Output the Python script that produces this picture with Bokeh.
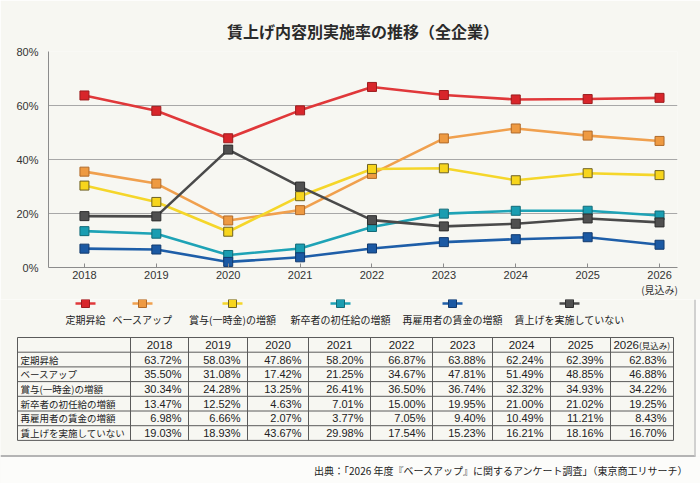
from bokeh.plotting import figure
from bokeh.models import Range1d, FixedTicker, LinearAxis
from bokeh.embed import file_html
from bokeh.resources import INLINE
from bokeh.core.properties import value

# ---------------- data ----------------
YEARS = ["2018", "2019", "2020", "2021", "2022", "2023", "2024", "2025", "2026"]
YEAR_NOTE = "(見込み)"
SERIES_NAMES = ["定期昇給", "ベースアップ", "賞与(一時金)の増額",
                "新卒者の初任給の増額", "再雇用者の賃金の増額", "賃上げを実施していない"]
teiki_shokyu = [63.72, 58.03, 47.86, 58.20, 66.87, 63.88, 62.24, 62.39, 62.83]
base_up = [35.50, 31.08, 17.42, 21.25, 34.67, 47.81, 51.49, 48.85, 46.88]
shoyo_zogaku = [30.34, 24.28, 13.25, 26.41, 36.50, 36.74, 32.32, 34.93, 34.22]
shinsotsu_shoninkyu = [13.47, 12.52, 4.63, 7.01, 15.00, 19.95, 21.00, 21.02, 19.25]
saikoyo_chingin = [6.98, 6.66, 2.07, 3.77, 7.05, 9.40, 10.49, 11.21, 8.43]
chinage_nashi = [19.03, 18.93, 43.67, 29.98, 17.54, 15.23, 16.21, 18.16, 16.70]
Y_TICKS = [0, 20, 40, 60, 80]
TITLE = "賃上げ内容別実施率の推移（全企業）"
SOURCE = "出典：「2026 年度『ベースアップ』に関するアンケート調査」（東京商工リサーチ）"

SERIES = [teiki_shokyu, base_up, shoyo_zogaku, shinsotsu_shoninkyu, saikoyo_chingin, chinage_nashi]

# ---------------- styles ----------------
LINE_COLORS = ["#e0383a", "#f0a04e", "#f5d62a", "#1ea3b6", "#1e5ea8", "#4a4a4a"]
FILL_COLORS = ["#d8262b", "#ee9a42", "#f7d51c", "#1a9db1", "#1b59a3", "#505050"]
EDGE_COLORS = ["#9c1d1f", "#b06a2a", "#6e6122", "#126b78", "#123a6e", "#2e2e2e"]
BG = "#f7f7f2"
JP = "Noto Sans CJK JP"
NUM = "Liberation Sans"
W = 700
H_TOP = 299
H_ALL = 483

# ---------------- chart ----------------
xs = list(range(len(YEARS)))
p = figure(width=W, height=H_TOP, x_range=Range1d(-0.5, 8.25), y_range=Range1d(0, 80),
           output_backend="svg", toolbar_location=None,
           min_border_left=48, min_border_right=23, min_border_top=51, min_border_bottom=30,
           background_fill_color=BG, border_fill_color=BG, outline_line_color=None)
p.title.text = TITLE
p.title.align = "center"
p.title.offset = -14
p.title.standoff = 17
p.title.padding = (0, 0, 4, 0)
p.title.text_font = JP
p.title.text_font_size = "16px"
p.title.text_font_style = "bold"
p.title.text_color = "#2a2a2a"

p.xaxis.ticker = FixedTicker(ticks=xs)
p.xaxis.major_label_overrides = {i: y for i, y in enumerate(YEARS)}
p.xaxis.major_label_text_font = NUM
p.xaxis.major_label_text_font_size = "11px"
p.xaxis.major_label_text_color = "#333333"
p.xaxis.major_label_standoff = 3
p.xaxis.major_tick_in = 4
p.xaxis.major_tick_out = 0
p.xaxis.minor_tick_line_color = None
p.xaxis.axis_line_color = "#8c8c8c"
p.xaxis.major_tick_line_color = "#8c8c8c"

# second line of the last category label
note_axis = LinearAxis(ticker=FixedTicker(ticks=[xs[-1]]),
                       major_label_overrides={xs[-1]: YEAR_NOTE})
note_axis.axis_line_color = None
note_axis.major_tick_line_color = None
note_axis.minor_tick_line_color = None
note_axis.major_tick_out = 0
note_axis.major_tick_in = 0
note_axis.major_label_standoff = 0
note_axis.major_label_text_font = JP
note_axis.major_label_text_font_size = "10px"
note_axis.major_label_text_color = "#333333"
p.add_layout(note_axis, "below")

p.yaxis.ticker = FixedTicker(ticks=Y_TICKS)
p.yaxis.major_label_overrides = {v: f"{v}%" for v in Y_TICKS}
p.yaxis.major_label_text_font = NUM
p.yaxis.major_label_text_font_size = "11px"
p.yaxis.major_label_text_color = "#333333"
p.yaxis.major_label_standoff = 10
p.yaxis.major_tick_in = 0
p.yaxis.major_tick_out = 0
p.yaxis.minor_tick_line_color = None
p.yaxis.axis_line_color = "#8c8c8c"

p.xgrid.visible = False
p.ygrid.ticker = FixedTicker(ticks=Y_TICKS)
p.ygrid.grid_line_color = "#a8a8a8"
p.ygrid.grid_line_width = 1

for vals, lc, fc, ec in zip(SERIES, LINE_COLORS, FILL_COLORS, EDGE_COLORS):
    p.line(xs, vals, line_color=lc, line_width=2.6)
    p.scatter(xs, vals, marker="square", size=9, fill_color=fc, line_color=ec, line_width=1)

# ---------------- legend + table ----------------
q = figure(width=W, height=H_ALL - H_TOP, x_range=Range1d(0, W), y_range=Range1d(H_ALL, H_TOP),
           output_backend="svg", toolbar_location=None,
           x_axis_location=None, y_axis_location=None,
           min_border_left=0, min_border_right=0, min_border_top=0, min_border_bottom=0,
           background_fill_color=BG, border_fill_color=BG, outline_line_color=None)
q.grid.visible = False

LEGEND_X = [85, 142, 232, 340, 452, 569]
LEGEND_MARK_Y = 303
LEGEND_TEXT_Y = 319
for lx, lc, fc, ec in zip(LEGEND_X, LINE_COLORS, FILL_COLORS, EDGE_COLORS):
    q.segment(x0=[lx - 10], x1=[lx + 10], y0=[LEGEND_MARK_Y], y1=[LEGEND_MARK_Y],
              line_color=lc, line_width=2.6)
    q.scatter([lx], [LEGEND_MARK_Y], marker="square", size=8, fill_color=fc,
              line_color=ec, line_width=1)
q.text(LEGEND_X, [LEGEND_TEXT_Y] * len(LEGEND_X), text=SERIES_NAMES,
       text_align="center", text_baseline="middle", text_font=value(JP),
       text_font_size="10px", text_color="#222222")

COL_EDGES = [17, 130, 188, 247, 308, 370, 432, 492, 550, 610, 673]
ROW_TOP = 337
ROW_H = 14.7
n_rows = len(SERIES) + 1
row_edges = [ROW_TOP + i * ROW_H for i in range(n_rows + 1)]
q.segment(x0=[COL_EDGES[0]] * len(row_edges), x1=[COL_EDGES[-1]] * len(row_edges),
          y0=row_edges, y1=row_edges, line_color="#5a5a5a", line_width=1)
q.segment(x0=COL_EDGES, x1=COL_EDGES, y0=[row_edges[0]] * len(COL_EDGES),
          y1=[row_edges[-1]] * len(COL_EDGES), line_color="#5a5a5a", line_width=1)

centers = [(COL_EDGES[i + 1] + COL_EDGES[i + 2]) / 2 for i in range(len(YEARS))]
hy = ROW_TOP + ROW_H / 2
q.text(centers[:-1], [hy] * (len(YEARS) - 1), text=YEARS[:-1], text_align="center",
       text_baseline="middle", text_font=value(NUM), text_font_size="11.5px", text_color="#222222")
q.text([centers[-1] - 3], [hy], text=[YEARS[-1]], text_align="right", text_baseline="middle",
       text_font=value(NUM), text_font_size="11.5px", text_color="#222222")
q.text([centers[-1] - 3], [hy], text=[YEAR_NOTE], text_align="left", text_baseline="middle",
       text_font=value(JP), text_font_size="8.5px", text_color="#222222")

row_y = [ROW_TOP + ROW_H * (r + 1.5) for r in range(len(SERIES))]
q.text([COL_EDGES[0] + 3] * len(SERIES), row_y, text=SERIES_NAMES, text_align="left",
       text_baseline="middle", text_font=value(JP), text_font_size="9.5px", text_color="#222222")
for c in range(len(YEARS)):
    q.text([COL_EDGES[c + 2] - 7] * len(SERIES), row_y,
           text=[f"{s[c]:.2f}%" for s in SERIES], text_align="right", text_baseline="middle",
           text_font=value(NUM), text_font_size="11px", text_color="#222222")

# card edge and source line
q.quad(left=[0], right=[W], top=[456], bottom=[H_ALL], fill_color="#fcfcfa", line_color=None)
q.segment(x0=[0], x1=[695], y0=[455.5], y1=[455.5], line_color="#b4b4b4", line_width=2)
q.segment(x0=[694.5], x1=[694.5], y0=[H_TOP], y1=[456], line_color="#c4c4c4", line_width=1.5)
q.quad(left=[695.5], right=[W], top=[H_TOP], bottom=[456], fill_color="#fcfcfa", line_color=None)
q.text([688], [470], text=[SOURCE], text_align="right", text_baseline="middle",
       text_font=value(JP), text_font_size="10px", text_color="#222222")

open("out.html", "w").write(file_html([p, q], INLINE))
